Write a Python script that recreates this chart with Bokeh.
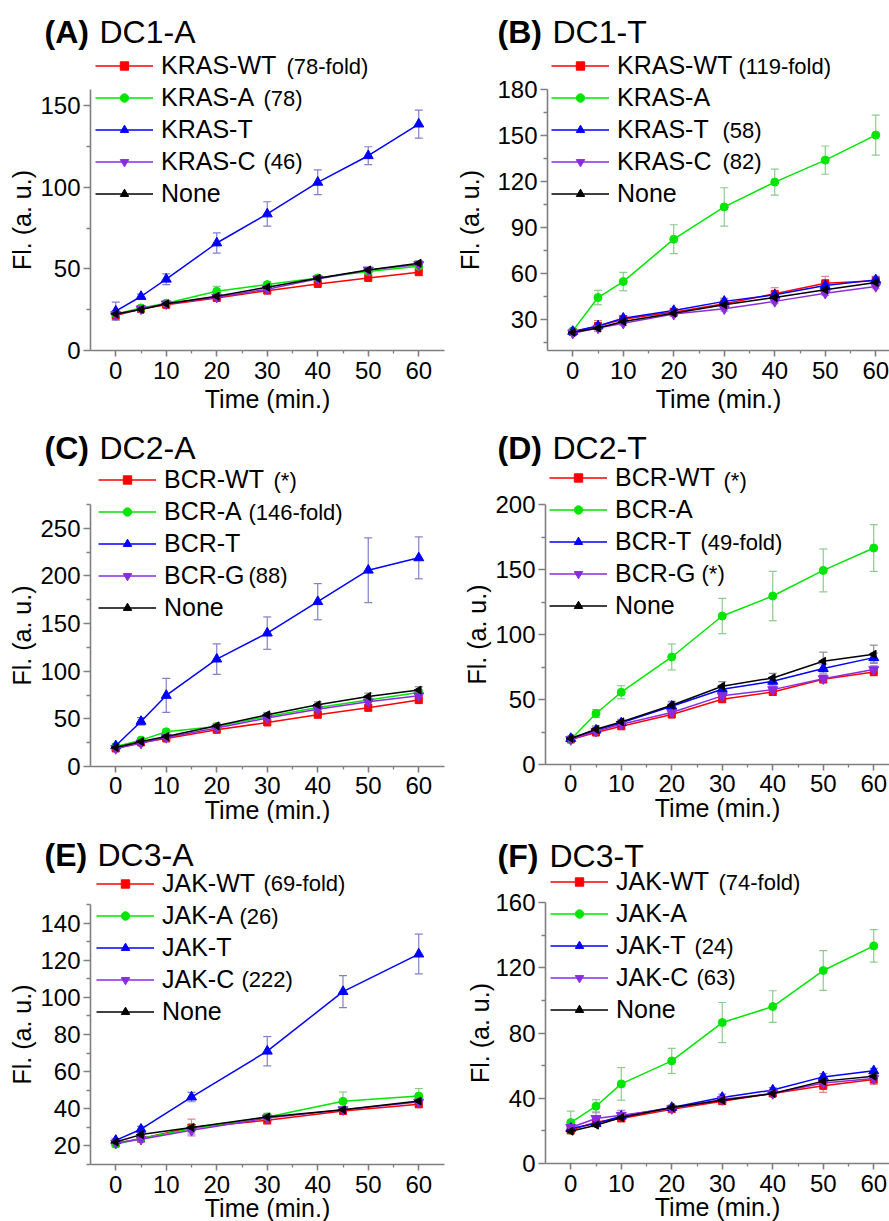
import math
from bokeh.plotting import figure
from bokeh.models import (Range1d, Label, Legend, LegendItem, Whisker, ColumnDataSource,
                          FixedTicker, TeeHead)
from bokeh.layouts import column, row
from bokeh.embed import file_html
from bokeh.resources import INLINE

FONT = "Liberation Sans"

# ---------------- data ----------------
T8 = [0, 5, 10, 20, 30, 40, 50, 60]
T6 = [0, 5, 15, 30, 45, 60]

# (A) DC1-A
A_WT = [21.4, 25.5, 28.0, 32.2, 36.7, 40.8, 44.5, 48.0]
A_WT_E = [2.5, 1.0, 1.0, 1.0, 1.2, 1.0, 1.2, 1.5]
A_A = [22.4, 26.1, 29.0, 36.3, 40.4, 44.5, 48.4, 51.6]
A_A_E = [2.0, 1.0, 1.2, 3.0, 1.5, 1.5, 1.5, 1.5]
A_T = [24.1, 33.1, 43.7, 65.9, 83.7, 103.1, 119.4, 138.8]
A_T_E = [5.5, 1.5, 3.3, 6.2, 7.5, 7.6, 5.5, 8.6]
A_C = [22.0, 25.5, 28.6, 32.7, 37.6, 43.9, 49.4, 52.7]
A_C_E = [1.5, 1.0, 1.0, 1.0, 1.0, 1.2, 1.2, 1.5]
A_N = [22.4, 25.1, 28.6, 33.3, 38.8, 44.3, 49.4, 53.5]
A_N_E = [1.0, 1.0, 1.0, 1.0, 1.0, 1.0, 1.2, 1.5]

# (B) DC1-T
B_WT = [22.0, 26.0, 30.4, 35.0, 40.4, 46.9, 53.8, 55.4]
B_WT_E = [1.5, 3.5, 2.0, 2.0, 2.5, 4.0, 4.5, 3.0]
B_A = [22.8, 44.5, 54.9, 82.5, 103.5, 119.7, 134.0, 150.3]
B_A_E = [1.5, 4.7, 6.0, 9.4, 12.5, 8.5, 9.2, 13.0]
B_T = [22.4, 26.0, 31.0, 36.0, 42.0, 46.3, 52.3, 56.0]
B_T_E = [1.0, 1.5, 1.5, 1.5, 2.0, 2.0, 2.0, 2.0]
B_C = [21.3, 24.6, 27.8, 33.7, 37.2, 42.0, 47.3, 51.7]
B_C_E = [1.0, 1.0, 1.5, 1.5, 1.5, 1.5, 1.5, 1.5]
B_N = [21.8, 24.6, 28.9, 34.3, 39.8, 44.5, 49.5, 54.3]
B_N_E = [1.0, 1.0, 1.0, 1.0, 1.0, 1.0, 1.0, 1.0]

# (C) DC2-A
C_WT = [18.9, 25.2, 29.4, 38.5, 46.2, 54.3, 61.6, 69.7]
C_WT_E = [2.0, 2.0, 2.0, 2.5, 2.5, 2.5, 3.0, 3.0]
C_A = [21.0, 27.7, 36.4, 42.0, 52.5, 62.0, 69.7, 77.7]
C_A_E = [2.0, 2.0, 2.5, 2.5, 2.5, 2.5, 3.0, 3.0]
C_T = [21.7, 47.3, 74.6, 112.7, 140.0, 173.0, 206.0, 219.0]
C_T_E = [2.0, 4.0, 17.8, 16.0, 17.0, 19.0, 34.0, 22.0]
C_G = [18.9, 24.5, 30.5, 40.3, 50.8, 60.2, 67.9, 74.2]
C_G_E = [2.0, 2.0, 2.0, 2.0, 2.5, 2.5, 3.0, 3.0]
C_N = [20.0, 26.3, 31.5, 42.7, 54.3, 64.8, 73.5, 80.2]
C_N_E = [2.0, 2.0, 2.0, 2.5, 2.5, 3.0, 3.5, 3.5]

# (D) DC2-T
D_WT = [19.2, 24.6, 29.4, 38.4, 50.2, 55.8, 65.6, 71.2]
D_WT_E = [1.5, 2.0, 2.0, 2.0, 2.5, 2.5, 3.0, 3.0]
D_A = [19.2, 39.2, 55.6, 82.7, 114.2, 129.6, 149.3, 166.5]
D_A_E = [1.5, 3.0, 5.0, 10.0, 13.6, 19.0, 16.5, 18.0]
D_T = [20.0, 26.4, 32.0, 44.8, 57.9, 64.0, 73.8, 82.2]
D_T_E = [1.5, 2.0, 2.0, 2.5, 3.0, 3.0, 3.5, 3.5]
D_G = [19.2, 25.6, 31.0, 40.0, 52.8, 57.6, 66.0, 73.0]
D_G_E = [1.5, 2.0, 2.0, 2.5, 2.5, 3.0, 3.0, 3.0]
D_N = [20.0, 27.1, 32.8, 45.6, 60.2, 66.6, 79.4, 84.8]
D_N_E = [1.0, 2.5, 2.0, 3.0, 3.5, 3.5, 7.0, 7.0]

# (E) DC3-A
E_WT = [21.3, 24.0, 29.9, 33.8, 38.8, 42.4]
E_WT_E = [1.0, 1.5, 4.5, 2.0, 1.5, 1.5]
E_A = [20.9, 24.0, 29.3, 35.6, 44.0, 46.9]
E_A_E = [1.0, 1.5, 2.0, 2.0, 5.0, 4.0]
E_T = [23.0, 29.0, 46.3, 71.0, 103.1, 123.3]
E_T_E = [1.0, 1.5, 2.5, 7.9, 8.6, 10.7]
E_C = [21.6, 23.6, 28.4, 35.0, 39.5, 43.6]
E_C_E = [1.0, 1.5, 2.0, 1.5, 1.5, 1.5]
E_N = [22.1, 26.1, 29.9, 35.6, 39.5, 44.2]
E_N_E = [1.0, 1.5, 1.5, 1.5, 1.5, 1.5]

# (F) DC3-T
F_WT = [20.4, 25.5, 27.6, 33.3, 38.2, 42.9, 47.6, 51.5]
F_WT_E = [1.5, 2.0, 1.5, 1.5, 2.0, 1.5, 4.0, 3.0]
F_A = [25.1, 35.1, 48.8, 62.9, 86.4, 96.2, 118.3, 133.4]
F_A_E = [7.0, 4.0, 10.0, 7.7, 12.3, 9.7, 12.2, 10.0]
F_T = [21.5, 24.5, 29.0, 34.3, 40.5, 45.0, 53.1, 56.8]
F_T_E = [1.0, 1.0, 1.5, 1.5, 2.0, 1.5, 2.0, 1.5]
F_C = [22.1, 27.6, 29.6, 33.7, 39.2, 42.9, 49.4, 52.1]
F_C_E = [2.0, 4.0, 3.0, 1.5, 2.0, 1.5, 2.0, 3.0]
F_N = [19.8, 23.5, 28.2, 34.3, 38.8, 42.9, 50.5, 53.5]
F_N_E = [1.0, 1.0, 1.0, 1.0, 1.0, 1.0, 1.5, 1.5]

X_TICKS = [0, 10, 20, 30, 40, 50, 60]
X_MINOR = [5, 15, 25, 35, 45, 55]
X_START = -5

# ---------------- styles ----------------
STYLE = [
    dict(color="#FF0000", marker="square", size=7, angle=0.0, err="#D98A8A"),
    dict(color="#00E600", marker="circle", size=8, angle=0.0, err="#8CCB8C"),
    dict(color="#0000FF", marker="triangle", size=10, angle=0.0, err="#8080C8"),
    dict(color="#8A2BE2", marker="inverted_triangle", size=10, angle=0.0, err="#B48AD8"),
    dict(color="#000000", marker="triangle", size=8, angle=math.pi / 2, err="#8C8C8C"),
]

# geometry (pixels inside each cell): L/T/B = axis left / axis top / axis bottom,
# Rb = space right of the x axis end
PANELS = [
    dict(tag="(A)", name="DC1-A", t=T8, W=445, H=413, L=90, T=89, B=350, Rb=1,
         y=(0, 160), yt=[0, 50, 100, 150], ym=[25, 75, 125],
         series=[("KRAS-WT", A_WT, A_WT_E), ("KRAS-A", A_A, A_A_E), ("KRAS-T", A_T, A_T_E),
                 ("KRAS-C", A_C, A_C_E), ("None", A_N, A_N_E)],
         title_pos=(44, 99, 31), leg=(95, 193), ylab_std=1, xstd=(5, 3),
         notes=[("(78-fold)", 286, 66), ("(78)", 263, 98), ("(46)", 263, 161)]),
    dict(tag="(B)", name="DC1-T", t=T8, W=444, H=413, L=102, T=89, B=350, Rb=0,
         y=(10, 180), yt=[30, 60, 90, 120, 150, 180], ym=[15, 45, 75, 105, 135, 165],
         series=[("KRAS-WT", B_WT, B_WT_E), ("KRAS-A", B_A, B_A_E), ("KRAS-T", B_T, B_T_E),
                 ("KRAS-C", B_C, B_C_E), ("None", B_N, B_N_E)],
         title_pos=(52, 107, 31), leg=(106, 193), ylab_std=10, xstd=(5, 3),
         notes=[("(119-fold)", 293, 66), ("(58)", 277, 130), ("(82)", 277, 161)]),
    dict(tag="(C)", name="DC2-A", t=T8, W=445, H=410, L=90, T=91, B=353, Rb=1,
         y=(0, 275), yt=[0, 50, 100, 150, 200, 250], ym=[25, 75, 125, 175, 225, 275],
         series=[("BCR-WT", C_WT, C_WT_E), ("BCR-A", C_A, C_A_E), ("BCR-T", C_T, C_T_E),
                 ("BCR-G", C_G, C_G_E), ("None", C_N, C_N_E)],
         title_pos=(44, 99, 34), leg=(98, 194), ylab_std=1, xstd=(4, -1),
         notes=[("(*)", 273, 67), ("(146-fold)", 248, 99), ("(88)", 248, 162)]),
    dict(tag="(D)", name="DC2-T", t=T8, W=444, H=410, L=100, T=91, B=351, Rb=0,
         y=(0, 200), yt=[0, 50, 100, 150, 200], ym=[25, 75, 125, 175],
         series=[("BCR-WT", D_WT, D_WT_E), ("BCR-A", D_A, D_A_E), ("BCR-T", D_T, D_T_E),
                 ("BCR-G", D_G, D_G_E), ("None", D_N, D_N_E)],
         title_pos=(52, 107, 34), leg=(104, 192), ylab_std=1, xstd=(4, -1),
         notes=[("(*)", 278, 67), ("(49-fold)", 255, 129), ("(*)", 256, 160)]),
    dict(tag="(E)", name="DC3-A", t=T6, W=445, H=398, L=90, T=81, B=341, Rb=1,
         y=(10, 150), yt=[20, 40, 60, 80, 100, 120, 140], ym=[10, 30, 50, 70, 90, 110, 130, 150],
         series=[("JAK-WT", E_WT, E_WT_E), ("JAK-A", E_A, E_A_E), ("JAK-T", E_T, E_T_E),
                 ("JAK-C", E_C, E_C_E), ("None", E_N, E_N_E)],
         title_pos=(44, 97, 31), leg=(96, 188), ylab_std=1, xstd=(5, -2),
         notes=[("(69-fold)", 263, 60), ("(26)", 239, 93), ("(222)", 241, 156)]),
    dict(tag="(F)", name="DC3-T", t=T8, W=444, H=398, L=100, T=79, B=340, Rb=0,
         y=(0, 160), yt=[0, 40, 80, 120, 160], ym=[20, 60, 100, 140],
         series=[("JAK-WT", F_WT, F_WT_E), ("JAK-A", F_A, F_A_E), ("JAK-T", F_T, F_T_E),
                 ("JAK-C", F_C, F_C_E), ("None", F_N, F_N_E)],
         title_pos=(52, 104, 32), leg=(105, 186), ylab_std=-2, xstd=(5, -2),
         notes=[("(74-fold)", 273, 59), ("(24)", 249, 123), ("(63)", 251, 154)]),
]

PX_PER_MIN = 5.05
AXIS_GRAY = "#7F7F7F"
ENTRY_H = 30


def make_panel(sp):
    W, H, L, T, B, Rb = sp["W"], sp["H"], sp["L"], sp["T"], sp["B"], sp["Rb"]
    y0, y1 = sp["y"]
    ys_px = (B - T) / (y1 - y0)             # pixels per y unit
    x_lo = X_START - L / PX_PER_MIN          # data x at the cell's left edge
    x_hi = X_START + (W - L) / PX_PER_MIN    # data x at the cell's right edge
    x_axis_end = X_START + (W - L - Rb) / PX_PER_MIN
    y_lo = y0 - (H - B) / ys_px
    y_hi = y0 + B / ys_px

    p = figure(width=W, height=H, x_range=Range1d(x_lo, x_hi), y_range=Range1d(y_lo, y_hi),
               min_border=0, output_backend="svg", toolbar_location=None)
    p.outline_line_color = None
    p.grid.visible = False
    p.xaxis.ticker = FixedTicker(ticks=X_TICKS, minor_ticks=X_MINOR)
    p.yaxis.ticker = FixedTicker(ticks=sp["yt"], minor_ticks=sp["ym"])
    for ax in (p.xaxis[0], p.yaxis[0]):
        ax.axis_line_color = AXIS_GRAY
        ax.axis_line_width = 1.6
        ax.major_tick_line_color = AXIS_GRAY
        ax.major_tick_line_width = 1.6
        ax.minor_tick_line_color = AXIS_GRAY
        ax.minor_tick_line_width = 1.3
        ax.major_tick_in = 0
        ax.minor_tick_in = 0
        ax.major_label_text_font = FONT
        ax.major_label_text_font_size = "24px"
        ax.major_label_text_color = "black"
        ax.axis_label_text_font = FONT
        ax.axis_label_text_font_size = "25px"
        ax.axis_label_text_font_style = "normal"
        ax.axis_label_text_color = "black"
    xa, ya = p.xaxis[0], p.yaxis[0]
    xa.fixed_location = y0
    ya.fixed_location = X_START
    xa.bounds = (X_START, x_axis_end)
    ya.bounds = (y0, y1)
    xa.axis_label = "Time (min.)"
    ya.axis_label = "Fl. (a. u.)"
    xa.major_tick_out = 6
    xa.minor_tick_out = 3
    xa.major_label_standoff = sp["xstd"][0]
    xa.axis_label_standoff = sp["xstd"][1]
    ya.major_tick_out = 7
    ya.minor_tick_out = 4
    ya.major_label_standoff = 3
    ya.axis_label_standoff = sp["ylab_std"]

    items = []
    for k, (label, ys, es) in enumerate(sp["series"]):
        st = STYLE[k]
        src = ColumnDataSource(dict(x=sp["t"], y=ys,
                                    lo=[a - b for a, b in zip(ys, es)],
                                    hi=[a + b for a, b in zip(ys, es)]))
        wk = Whisker(source=src, base="x", upper="hi", lower="lo",
                     line_color=st["err"], line_width=1.2,
                     upper_head=TeeHead(size=8, line_color=st["err"], line_width=1.2),
                     lower_head=TeeHead(size=8, line_color=st["err"], line_width=1.2))
        p.add_layout(wk)
        lr = p.line("x", "y", source=src, line_color=st["color"], line_width=1.5)
        sr = p.scatter("x", "y", source=src, marker=st["marker"], size=st["size"],
                       angle=st["angle"], angle_units="rad",
                       fill_color=st["color"], line_color=st["color"])
        items.append(LegendItem(label=label, renderers=[lr, sr]))

    lx0, ylast = sp["leg"]
    leg = Legend(items=items, location=(lx0, H - (ylast + ENTRY_H / 2)),
                 glyph_width=58, glyph_height=21, label_height=ENTRY_H, spacing=2,
                 label_standoff=8, padding=0, margin=0,
                 label_text_font=FONT, label_text_font_size="25px",
                 label_text_color="black",
                 border_line_color=None, background_fill_alpha=0.0)
    p.add_layout(leg)

    tx_tag, tx_name, ty = sp["title_pos"]
    p.add_layout(Label(x=tx_tag, y=H - ty, x_units="screen", y_units="screen",
                       text=sp["tag"], text_font=FONT, text_font_size="32px",
                       text_color="black",
                       text_font_style="bold", text_baseline="middle", text_align="left"))
    p.add_layout(Label(x=tx_name, y=H - ty, x_units="screen", y_units="screen",
                       text=sp["name"], text_font=FONT, text_font_size="32px",
                       text_color="black",
                       text_baseline="middle", text_align="left"))
    for txt, nx, ny in sp["notes"]:
        p.add_layout(Label(x=nx, y=H - ny, x_units="screen", y_units="screen",
                           text=txt, text_font=FONT, text_font_size="22px",
                           text_color="black",
                           text_baseline="middle", text_align="left"))
    return p


figs = [make_panel(sp) for sp in PANELS]
layout = column(row(figs[0], figs[1]), row(figs[2], figs[3]), row(figs[4], figs[5]))

open("out.html", "w").write(file_html(layout, INLINE))
